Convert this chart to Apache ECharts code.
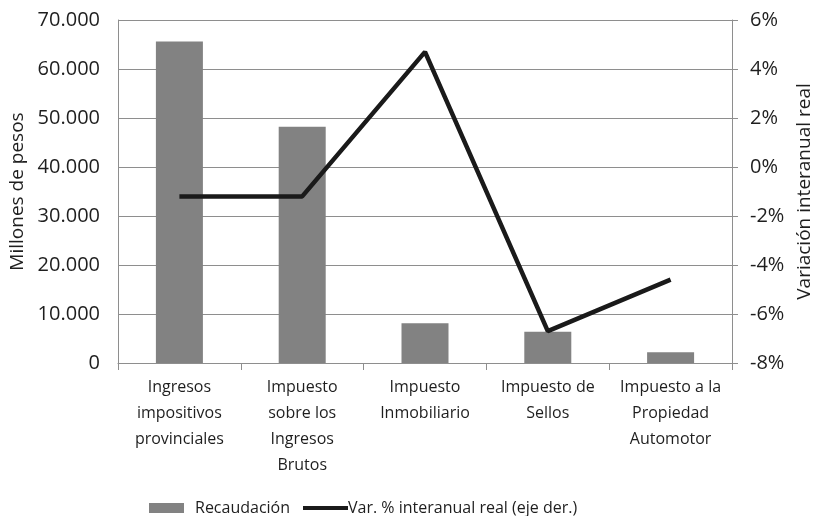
<!DOCTYPE html>
<html>
<head>
<meta charset="utf-8">
<script src="https://cdn.jsdelivr.net/npm/echarts@6/dist/echarts.min.js"></script>
<style>
  html, body { margin: 0; padding: 0; background: #fff; }
  #chart { width: 815px; height: 516px; }
</style>
</head>
<body>
<div id="chart"></div>
<script>
const categories = [
  'Ingresos\nimpositivos\nprovinciales',
  'Impuesto\nsobre los\nIngresos\nBrutos',
  'Impuesto\nInmobiliario',
  'Impuesto de\nSellos',
  'Impuesto a la\nPropiedad\nAutomotor'
];
const recaudacion = [65600, 48200, 8100, 6400, 2200];
const variacion = [-1.2, -1.2, 4.7, -6.7, -4.6];

const FONT = '"Open Sans", "Liberation Sans", sans-serif';
const TXT = '#1e1e1e';
const AXIS = '#8e8e8e';

const chart = echarts.init(document.getElementById('chart'), null, { renderer: 'canvas' });

const fmtMiles = v => String(v).replace(/\B(?=(\d{3})+(?!\d))/g, '.');

chart.setOption({
  animation: false,
  textStyle: { fontFamily: FONT },
  grid: { left: 118, right: 83, top: 20, bottom: 153, outerBoundsMode: 'none', containLabel: false },
  legend: [
    {
      left: 144,
      top: 495,
      itemWidth: 35,
      itemHeight: 10,
      textStyle: { fontSize: 16, color: TXT, fontFamily: FONT, padding: [0, 0, 0, 6] },
      data: [{ name: 'Recaudación', icon: 'rect' }]
    },
    {
      left: 298,
      top: 495,
      itemWidth: 45,
      itemHeight: 4,
      textStyle: { fontSize: 16, color: TXT, fontFamily: FONT, padding: [0, 0, 0, -5] },
      data: [{ name: 'Var. % interanual real (eje der.)', icon: 'rect' }]
    }
  ],
  xAxis: {
    type: 'category',
    data: categories,
    axisLine: { lineStyle: { color: AXIS, width: 1 } },
    axisTick: { show: true, length: 7, lineStyle: { color: AXIS } },
    axisLabel: { fontSize: 16, color: TXT, lineHeight: 26, margin: 11, interval: 0, fontFamily: FONT }
  },
  yAxis: [
    {
      type: 'value',
      min: 0, max: 70000, interval: 10000,
      name: 'Millones de pesos',
      nameLocation: 'middle',
      nameRotate: 90,
      nameGap: 86,
      nameTextStyle: { fontSize: 19, color: TXT, fontFamily: FONT },
      axisLine: { show: true, lineStyle: { color: AXIS } },
      axisTick: { show: false },
      axisLabel: { fontSize: 20, color: TXT, margin: 18, formatter: fmtMiles, fontFamily: FONT },
      splitLine: { lineStyle: { color: AXIS, width: 1 } }
    },
    {
      type: 'value',
      min: -8, max: 6, interval: 2,
      position: 'right',
      name: 'Variación interanual real',
      nameLocation: 'middle',
      nameRotate: 90,
      nameGap: 61,
      nameTextStyle: { fontSize: 19, color: TXT, fontFamily: FONT },
      axisLine: { show: true, lineStyle: { color: AXIS } },
      axisTick: { show: true, length: 6, lineStyle: { color: AXIS } },
      axisLabel: { fontSize: 20, color: TXT, margin: 18, formatter: '{value}%', fontFamily: FONT },
      splitLine: { show: false }
    }
  ],
  series: [
    {
      name: 'Recaudación',
      type: 'bar',
      data: recaudacion,
      barWidth: 47,
      itemStyle: { color: '#828282' }
    },
    {
      name: 'Var. % interanual real (eje der.)',
      type: 'line',
      yAxisIndex: 1,
      data: variacion,
      symbol: 'none',
      lineStyle: { color: '#1a1a1a', width: 4.5 },
      itemStyle: { color: '#1a1a1a' }
    }
  ]
});
</script>
</body>
</html>
